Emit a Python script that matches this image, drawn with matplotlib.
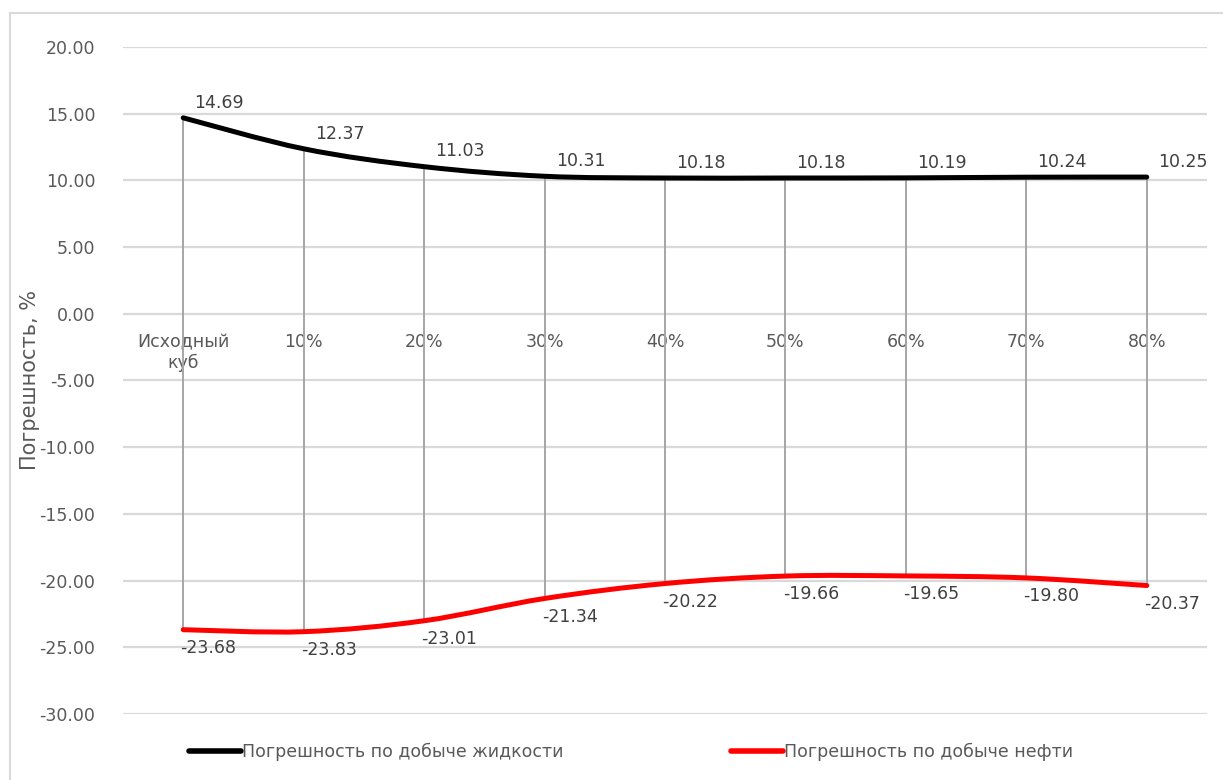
import numpy as np
import matplotlib
matplotlib.use('Agg')
import matplotlib.pyplot as plt
from matplotlib.path import Path
from matplotlib.patches import PathPatch, Rectangle
from matplotlib.lines import Line2D

plt.rcParams['font.family'] = ['DejaVu Sans']

categories = ['Исходный\nкуб', '10%', '20%', '30%', '40%', '50%', '60%', '70%', '80%']
liquid_err = [14.69, 12.37, 11.03, 10.31, 10.18, 10.18, 10.19, 10.24, 10.25]
oil_err = [-23.68, -23.83, -23.01, -21.34, -20.22, -19.66, -19.65, -19.80, -20.37]

series_names = ['Погрешность по добыче жидкости', 'Погрешность по добыче нефти']
yticks = [20, 15, 10, 5, 0, -5, -10, -15, -20, -25, -30]

GRID = '#d9d9d9'
TXT = '#595959'
LBL = '#404040'


def smooth_path(x, y, k=1/6):
    # cubic bezier through every point, excel-like smoothing
    x = np.asarray(x, float)
    y = np.asarray(y, float)
    n = len(x)
    verts = [(x[0], y[0])]
    codes = [Path.MOVETO]
    for i in range(n - 1):
        p0 = np.array([x[max(i - 1, 0)], y[max(i - 1, 0)]])
        p1 = np.array([x[i], y[i]])
        p2 = np.array([x[i + 1], y[i + 1]])
        p3 = np.array([x[min(i + 2, n - 1)], y[min(i + 2, n - 1)]])
        c1 = p1 + (p2 - p0) * k
        c2 = p2 - (p3 - p1) * k
        verts += [tuple(c1), tuple(c2), tuple(p2)]
        codes += [Path.CURVE4] * 3
    return Path(verts, codes)


fig = plt.figure(figsize=(12.23, 7.80), dpi=100)
ax = fig.add_axes([123 / 1223, 1 - 714 / 780, (1207 - 123) / 1223, (714 - 47) / 780])

x = np.arange(len(categories))

# drop lines between the two series
ax.vlines(x, oil_err, liquid_err, color='#a6a6a6', lw=1.4, zorder=2)

for vals, col in [(liquid_err, 'black'), (oil_err, '#ff0000')]:
    ax.add_patch(PathPatch(smooth_path(x, vals), fill=False, edgecolor=col,
                           lw=3.6, capstyle='round', joinstyle='round', zorder=3))

for xi, v in zip(x, liquid_err):
    ax.annotate(f'{v:.2f}', (xi, v), xytext=(8, 11), textcoords='offset points',
                ha='left', va='center', fontsize=12.5, color=LBL, zorder=4)
for xi, v in zip(x, oil_err):
    ax.annotate(f'{v:.2f}', (xi, v), xytext=(-2, -13), textcoords='offset points',
                ha='left', va='center', fontsize=12.5, color=LBL, zorder=4)

ax.set_xlim(-0.5, len(categories) - 0.5)
ax.set_ylim(-30, 20)
ax.set_yticks(yticks)
ax.set_yticklabels([f'{t:.2f}' for t in yticks])
ax.yaxis.grid(True, color=GRID, lw=1.6)
ax.set_axisbelow(True)

ax.set_xticks(x)
ax.set_xticklabels(categories, linespacing=1.35)
ax.spines['bottom'].set_position(('data', 0))
for s in ax.spines.values():
    s.set_visible(False)
ax.tick_params(axis='x', length=0, pad=14, labelsize=12.5, labelcolor=TXT)
ax.tick_params(axis='y', length=0, pad=20, labelsize=12.5, labelcolor=TXT)

fig.text(30 / 1223, 1 - 380 / 780, 'Погрешность, %', rotation=90,
         ha='center', va='center', fontsize=15, color=TXT)

handles = [Line2D([], [], color='black', lw=4, solid_capstyle='round'),
           Line2D([], [], color='#ff0000', lw=4, solid_capstyle='round')]
fig.legend(handles, series_names, loc='center left', ncol=2,
           bbox_to_anchor=(173 / 1223, 1 - 752 / 780), frameon=False,
           fontsize=12.5, handlelength=3.0, handletextpad=0.1,
           columnspacing=9.6, labelcolor=TXT)

# chart area border
fig.patches.append(Rectangle((10 / 1223, -0.1), 1.2, 1 - 13 / 780 + 0.1,
                             transform=fig.transFigure, fill=False,
                             edgecolor=GRID, lw=1.5))

fig.savefig('out.png', dpi=100)
